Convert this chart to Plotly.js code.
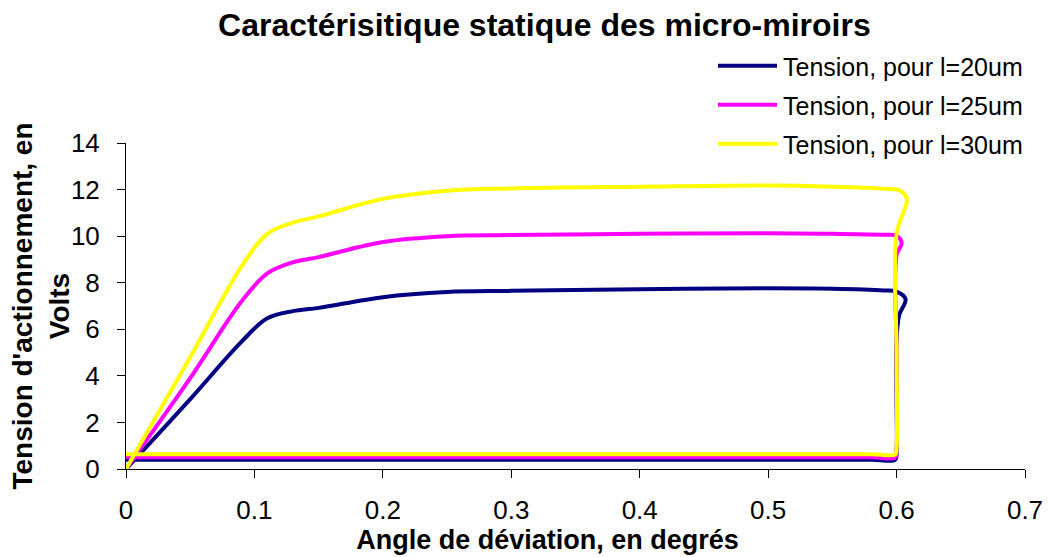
<!DOCTYPE html>
<html>
<head>
<meta charset="utf-8">
<script src="https://cdn.plot.ly/plotly-3.0.1.min.js"></script>
<style>html,body{margin:0;padding:0;background:#fff;}#chart{width:1049px;height:557px;}</style>
</head>
<body>
<div id="chart"></div>
<script>
// Series l = 20 um (angle in degrees, voltage in volts)
const angle20 = [0, 0.05, 0.09, 0.11, 0.13, 0.15, 0.2, 0.25, 0.3, 0.4, 0.5, 0.55, 0.59, 0.6, 0.607, 0.602, 0.6, 0.6, 0.6, 0.599, 0.58, 0.3, 0.02, 0];
const volt20  = [0, 3.0, 5.47, 6.47, 6.78, 6.92, 7.38, 7.6, 7.65, 7.72, 7.76, 7.74, 7.67, 7.62, 7.3, 6.6, 5.5, 3.0, 0.7, 0.4, 0.4, 0.4, 0.4, 0.4];
// Series l = 25 um
const angle25 = [0, 0.05, 0.09, 0.11, 0.13, 0.15, 0.2, 0.25, 0.3, 0.4, 0.5, 0.55, 0.59, 0.6, 0.604, 0.6, 0.6, 0.6, 0.599, 0.58, 0.3, 0.02, 0];
const volt25  = [0, 3.9, 7.2, 8.4, 8.88, 9.1, 9.75, 10.0, 10.05, 10.1, 10.12, 10.1, 10.06, 10.02, 9.7, 9.2, 5.0, 0.8, 0.5, 0.5, 0.5, 0.5, 0.5];
// Series l = 30 um
const angle30 = [0, 0.05, 0.09, 0.11, 0.13, 0.15, 0.2, 0.25, 0.3, 0.4, 0.5, 0.55, 0.59, 0.603, 0.608, 0.6, 0.6, 0.6, 0.599, 0.58, 0.3, 0.02, 0];
const volt30  = [0, 4.8, 8.7, 10.1, 10.58, 10.85, 11.6, 11.95, 12.05, 12.12, 12.17, 12.12, 12.03, 11.95, 11.6, 10.1, 5.0, 0.9, 0.63, 0.63, 0.63, 0.63, 0.63];

const seriesNames = ["Tension, pour l=20um", "Tension, pour l=25um", "Tension, pour l=30um"];
const xTicks = [0, 0.1, 0.2, 0.3, 0.4, 0.5, 0.6, 0.7];
const yTicks = [0, 2, 4, 6, 8, 10, 12, 14];

const FONT = "Liberation Sans, Arial, sans-serif";
const colors = ["#000080", "#FF00FF", "#FFFF00"];
const xs = [angle20, angle25, angle30];
const ys = [volt20, volt25, volt30];

const traces = xs.map((x, i) => ({
  type: "scatter",
  mode: "lines",
  x: x,
  y: ys[i],
  name: seriesNames[i],
  legendgroup: "g" + i,
  line: {color: colors[i], width: 4, shape: "spline", smoothing: 1},
  hoverinfo: "skip"
}));

const layout = {
  width: 1049,
  height: 557,
  paper_bgcolor: "#fff",
  plot_bgcolor: "#fff",
  font: {family: FONT, color: "#000"},
  margin: {l: 126, r: 24, t: 143, b: 88, pad: 0, autoexpand: false},
  title: {
    text: "<b>Caractérisitique statique des micro-miroirs</b>",
    font: {family: FONT, size: 32, color: "#000"},
    xref: "container", x: 0.519, xanchor: "center",
    yref: "container", y: 0.956, yanchor: "middle"
  },
  xaxis: {
    range: [0, 0.7],
    tickvals: xTicks,
    ticktext: xTicks.map(String),
    showgrid: false, zeroline: false,
    showline: true, linecolor: "#000", linewidth: 1,
    ticks: "outside", ticklen: 8, tickcolor: "#000", tickwidth: 1,
    tickfont: {family: FONT, size: 26, color: "#000"},
    ticklabelstandoff: 10,
    title: {text: "<b>Angle de déviation, en degrés</b>", font: {family: FONT, size: 27, color: "#000"}, standoff: 4}
  },
  yaxis: {
    range: [0, 14],
    tickvals: yTicks,
    showgrid: false, zeroline: false,
    showline: true, linecolor: "#000", linewidth: 1,
    ticks: "outside", ticklen: 8, tickcolor: "#000", tickwidth: 1,
    tickfont: {family: FONT, size: 26, color: "#000"},
    ticklabelstandoff: 12,
    title: {text: "<b>Tension d'actionnement, en<br>Volts</b>", font: {family: FONT, size: 28, color: "#000"}, standoff: 0}
  },
  showlegend: true,
  legend: {
    xref: "container", yref: "container",
    x: 713 / 1049, xanchor: "left",
    y: 1 - 43 / 557, yanchor: "top",
    font: {family: FONT, size: 25, color: "#000"},
    bgcolor: "rgba(0,0,0,0)",
    borderwidth: 0,
    itemwidth: 60,
    traceorder: "grouped",
    tracegroupgap: 3.5
  }
};

Plotly.newPlot("chart", traces, layout, {staticPlot: true, displayModeBar: false}).then(function (gd) {
  // lengthen legend line samples like the original chart
  gd.querySelectorAll(".legend .legendlines path").forEach(function (p) {
    p.setAttribute("d", "M5,0h59");
  });
  // nudge axis titles to the original placement
  var xt = gd.querySelector(".xtitle");
  if (xt) xt.setAttribute("transform", "translate(-28,0)");
  var yt = gd.querySelector(".ytitle");
  if (yt) yt.setAttribute("transform", "translate(7,0) " + (yt.getAttribute("transform") || ""));
});
</script>
</body>
</html>
